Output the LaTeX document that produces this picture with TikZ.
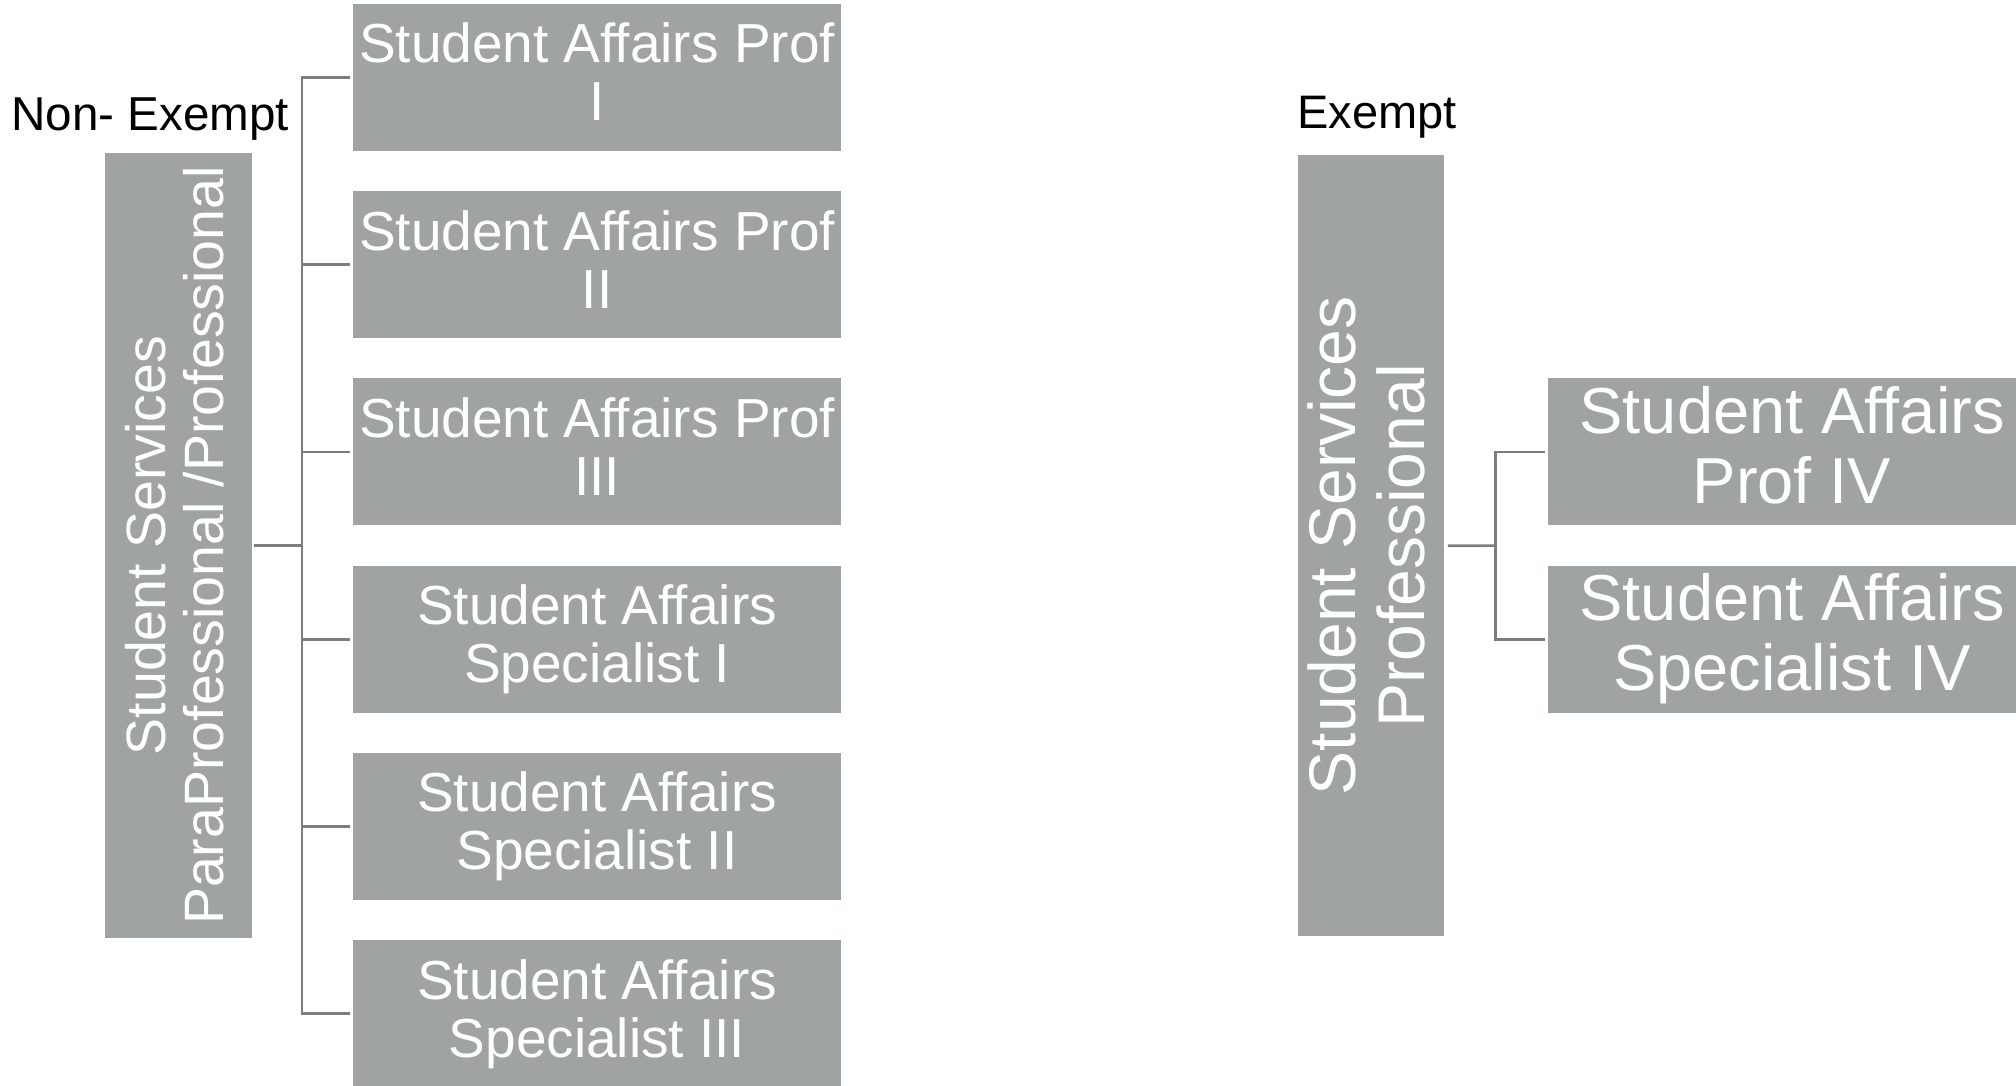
\documentclass[tikz,border=0pt]{standalone}
\usepackage{fontspec}
\setmainfont{Liberation Sans}
\definecolor{boxgray}{RGB}{160,163,164}
\definecolor{linegray}{RGB}{122,126,127}
\newcommand\sst{\rule[-10.6pt]{0pt}{44pt}}
\newcommand\bst{\rule[-13.8pt]{0pt}{52pt}}
\newcommand\ltst{\rule[-7pt]{0pt}{47pt}}
\newcommand\rtst{\rule[-10.4pt]{0pt}{54pt}}
\begin{document}
\begin{tikzpicture}[x=1pt,y=-1pt,
  gbox/.style={rectangle,fill=boxgray,draw=none,inner sep=0pt,text=white,align=center},
  smallbox/.style={gbox,minimum width=488pt,minimum height=147pt,font=\fontsize{55}{58}\selectfont},
  bigbox/.style={gbox,minimum width=488pt,minimum height=147pt,font=\fontsize{65}{70}\selectfont},
  conn/.style={draw=linegray,line width=2.7pt},
  lbl/.style={inner sep=0pt,anchor=base west}]
\useasboundingbox (0,0) rectangle (2016,1085);

% left group
\node[lbl,font=\fontsize{47.6}{50}\selectfont] (nonex) at (11.2,130.5) {Non- Exempt};
\node[gbox,rotate=90,minimum width=785pt,minimum height=147pt,
      font=\fontsize{55.5}{58}\selectfont] (ltall) at (178,545.5)
  {\ltst Student Services\\\ltst ParaProfessional /Professional};

\node[smallbox] (b1) at (597,77.3) {\sst Student Affairs Prof\\\sst I};
\node[smallbox] (b2) at (597,264.6) {\sst Student Affairs Prof\\\sst II};
\node[smallbox] (b3) at (597,451.9) {\sst Student Affairs Prof\\\sst III};
\node[smallbox] (b4) at (597,639.2) {\sst Student Affairs\\\sst Specialist I};
\node[smallbox] (b5) at (597,826.5) {\sst Student Affairs\\\sst Specialist II};
\node[smallbox] (b6) at (597,1013.8) {\sst Student Affairs\\\sst Specialist III};

\coordinate (lbus) at (302,545.5);
\draw[conn] ([xshift=2.6pt]ltall.south) -- (lbus);
\draw[conn] (lbus |- b1.west) -- (lbus |- b6.west);
\foreach \b in {b1,b2,b3,b4,b5,b6}
  \draw[conn] ([xshift=-1.35pt]lbus |- \b.west) -- ([xshift=-2.8pt]\b.west);

% right group
\node[lbl,font=\fontsize{47}{50}\selectfont] (exempt) at (1297,128.8) {Exempt};
\node[gbox,rotate=90,minimum width=781pt,minimum height=146pt,
      font=\fontsize{66}{69}\selectfont] (rtall) at (1371.2,545.8)
  {\rtst Student Services\\\rtst Professional};

\node[bigbox] (r1) at (1792,451.9) {\bst Student Affairs\\\bst Prof IV};
\node[bigbox] (r2) at (1792,639.2) {\bst Student Affairs\\\bst Specialist IV};

\coordinate (rbus) at (1495.7,545.6);
\draw[conn] ([xshift=3.5pt]rtall.south) -- (rbus);
\draw[conn] (rbus |- r1.west) -- (rbus |- r2.west);
\foreach \b in {r1,r2}
  \draw[conn] ([xshift=-1.35pt]rbus |- \b.west) -- ([xshift=-2.6pt]\b.west);
\end{tikzpicture}
\end{document}
